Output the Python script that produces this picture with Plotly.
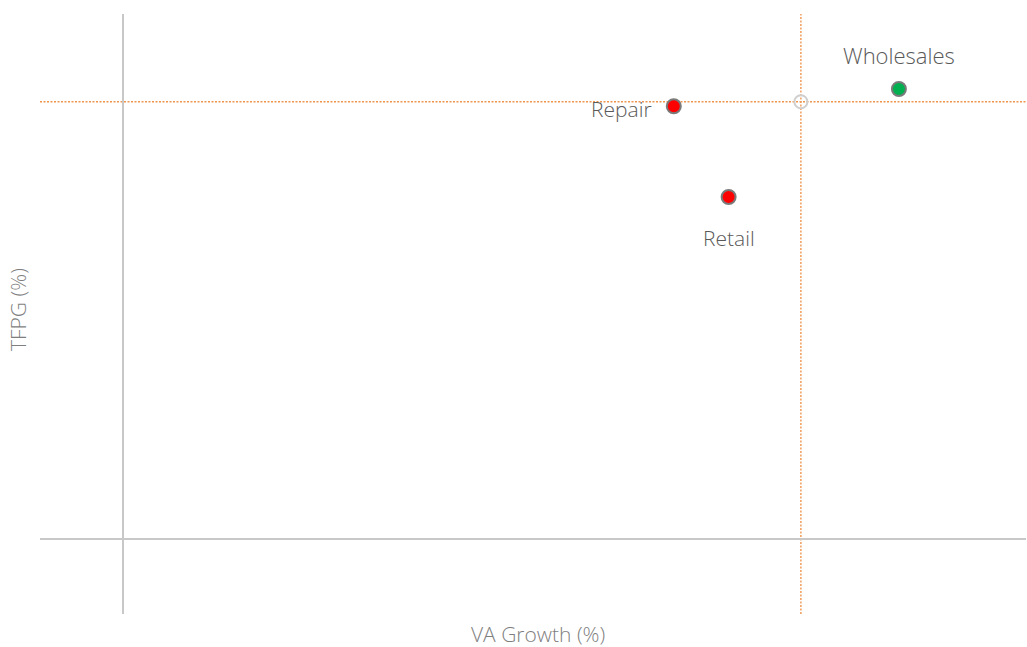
import plotly.graph_objects as go

# Data
sectors = ["Repair", "Retail", "Wholesales"]
va_growth = [6.63, 7.29, 9.34]        # x: VA Growth (%)
tfpg = [5.77, 4.56, 6.00]             # y: TFPG (%)
colors = ["#FF0000", "#FF0000", "#00B050"]
avg_va = 8.16
avg_tfpg = 5.83

x_range = [-1.0, 10.87]
y_range = [-1.0, 7.0]

FONT = "Open Sans"

fig = go.Figure()

fig.add_trace(go.Scatter(
    x=[avg_va], y=[avg_tfpg], mode="markers",
    marker=dict(size=13, color="rgba(255,255,255,0)", line=dict(color="#CFCFCF", width=2)),
    hoverinfo="skip", showlegend=False))

fig.add_trace(go.Scatter(
    x=va_growth, y=tfpg, mode="markers", text=sectors,
    marker=dict(size=14, color=colors, line=dict(color="#7A7A7A", width=2)),
    showlegend=False))

# reference lines at averages
line_style = dict(color="#F0954F", width=1.4, dash="2px,1.5px")
fig.add_shape(type="line", xref="x", yref="paper", x0=avg_va, x1=avg_va, y0=0, y1=1,
              line=line_style, layer="below")
fig.add_shape(type="line", xref="paper", yref="y", x0=0, x1=1, y0=avg_tfpg, y1=avg_tfpg,
              line=line_style, layer="below")

label_font = dict(family=FONT, size=21, color="#595959", weight=300)
label_sizes = {"Repair": 21, "Retail": 21, "Wholesales": 22}
label_pos = {
    "Repair": dict(xanchor="right", yanchor="middle", xshift=-20, yshift=-3),
    "Retail": dict(xanchor="center", yanchor="middle", xshift=0, yshift=-41),
    "Wholesales": dict(xanchor="center", yanchor="middle", xshift=0, yshift=34),
}
for name, xv, yv in zip(sectors, va_growth, tfpg):
    f = dict(label_font, size=label_sizes[name])
    fig.add_annotation(x=xv, y=yv, text=name, showarrow=False, font=f, **label_pos[name])

# axis titles
title_font = dict(family=FONT, size=21, color="#7F7F7F", weight=300)
fig.add_annotation(xref="paper", yref="paper", x=0.5, y=0, text="VA Growth (%)",
                   showarrow=False, font=title_font, xanchor="center", yanchor="middle",
                   xshift=5, yshift=-20)
fig.add_annotation(xref="paper", yref="paper", x=0, y=0.5, text="TFPG (%)", textangle=-90,
                   showarrow=False, font=title_font, xanchor="center", yanchor="middle",
                   xshift=-22, yshift=4)

axis_common = dict(showgrid=False, showticklabels=False, ticks="", showline=False,
                   zeroline=True, zerolinecolor="#C8C8C8", zerolinewidth=2)
fig.update_xaxes(range=x_range, **axis_common)
fig.update_yaxes(range=y_range, **axis_common)

fig.update_layout(
    width=1027, height=647,
    margin=dict(l=40, r=1, t=14, b=33),
    plot_bgcolor="white", paper_bgcolor="white",
    font=dict(family=FONT),
)

fig.write_html("out.html", config={"displayModeBar": False},
               post_script="document.body.style.margin='0';document.body.style.overflow='hidden';")
